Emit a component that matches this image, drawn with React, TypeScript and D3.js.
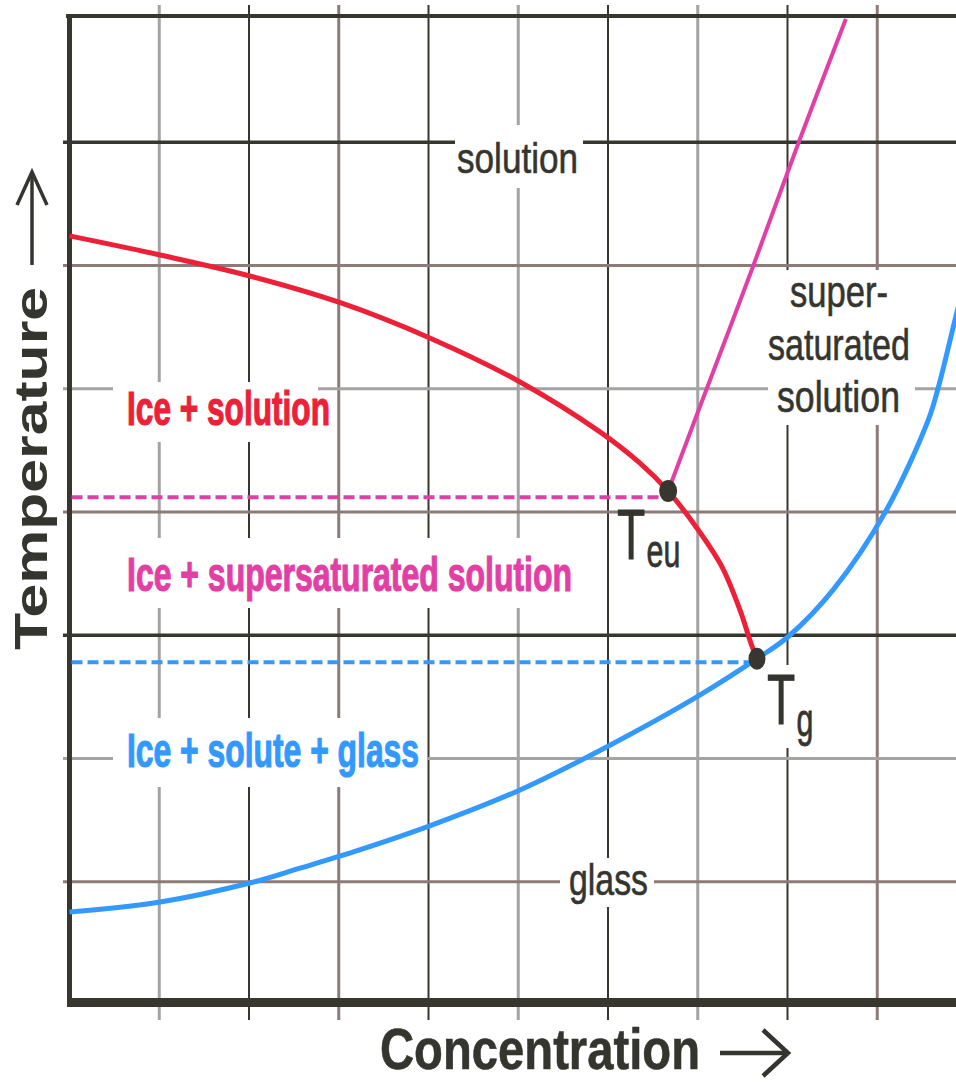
import React from 'react';
import * as d3 from 'd3';

const W = 956;
const H = 1082;

// ---- data (concentration 0..10, temperature 0..8, arbitrary units) ----
const xGridValues = [1, 2, 3, 4, 5, 6, 7, 8, 9];
const xGridTones = ['light', 'dark', 'brown', 'dark', 'light', 'dark', 'light', 'dark', 'brown'];
const yGridValues = [1, 2, 3, 4, 5, 6, 7];
const yGridTones = ['brown', 'light', 'dark', 'brown', 'light', 'brown', 'dark'];

const liquidusX = [0, 1.01, 2.01, 3.01, 4.02, 5.02, 5.91, 6.35, 6.67, 6.99, 7.27, 7.47, 7.6, 7.66];
const liquidusY = [6.24, 6.085, 5.915, 5.7, 5.41, 5.055, 4.65, 4.4, 4.17, 3.87, 3.555, 3.205, 2.92, 2.81];

const solubilityX = [6.67, 6.97, 7.62, 8.12, 8.65];
const solubilityY = [4.17, 4.75, 6.0, 6.99, 8.0];

const glassX = [0, 1.01, 2.01, 2.57, 3.24, 4.02, 5.02, 6.0, 6.99, 7.66, 8.01, 8.51, 9.09, 9.57, 9.68, 9.87, 9.95];
const glassY = [0.755, 0.836, 0.99, 1.11, 1.26, 1.455, 1.745, 2.1, 2.5, 2.81, 2.99, 3.37, 4.0, 4.75, 5.01, 5.57, 5.8];

const eutecticPoint = [6.67, 4.17];
const glassPoint = [7.66, 2.81];
const eutecticLevel = 4.12;
const glassLevel = 2.78;

const COLORS = {
  dark: '#37372f',
  light: '#a3a3a3',
  brown: '#8c7b79',
  red: '#ec2138',
  pink: '#e23fa6',
  blue: '#3399ff',
  text: '#35352f',
};

const x = d3.scaleLinear().domain([0, 10]).range([69.5, 967]);
const y = d3.scaleLinear().domain([0, 8]).range([1005, 19]);

const toPts = (xs: number[], ys: number[]) => xs.map((v, i) => [v, ys[i]] as [number, number]);

const lineGen = d3
  .line<[number, number]>()
  .x((d) => x(d[0]))
  .y((d) => y(d[1]))
  .curve(d3.curveCatmullRom.alpha(0.5));

const FONT = "'Liberation Sans', Arial, Helvetica, sans-serif";

type Lbl = {
  text: string;
  x0: number;
  x1: number;
  base: number;
  size: number;
  weight: string;
  fill: string;
  halo: number;
};

const labels: Lbl[] = [
  { text: 'solution', x0: 457, x1: 578, base: 173, size: 42, weight: 'normal', fill: COLORS.text, halo: 0.6 },
  { text: 'super-', x0: 790, x1: 888, base: 307, size: 44, weight: 'normal', fill: COLORS.text, halo: 0.6 },
  { text: 'saturated', x0: 768, x1: 910, base: 360, size: 44, weight: 'normal', fill: COLORS.text, halo: 0.6 },
  { text: 'solution', x0: 777, x1: 900, base: 412, size: 44, weight: 'normal', fill: COLORS.text, halo: 0.6 },
  { text: 'glass', x0: 569, x1: 648, base: 895, size: 44, weight: 'normal', fill: COLORS.text, halo: 0.6 },
  { text: 'Ice + solution', x0: 127, x1: 330, base: 425, size: 48, weight: 'bold', fill: COLORS.red, halo: 1.2 },
  { text: 'Ice + supersaturated solution', x0: 127, x1: 572, base: 591, size: 48, weight: 'bold', fill: COLORS.pink, halo: 1.2 },
  { text: 'Ice + solute + glass', x0: 127, x1: 419, base: 767, size: 48, weight: 'bold', fill: COLORS.blue, halo: 1.2 },
];

// point labels: main letter + subscript
const pointLabels = [
  { main: 'T', sub: 'eu', x0: 617, base: 559, subDy: 8 },
  { main: 'T', sub: 'g', x0: 767, base: 724, subDy: 12 },
];

// white masks behind labels (x0, y0, x1, y1)
const masks: [number, number, number, number][] = [
  [455, 125, 583, 188],
  [768, 270, 915, 425],
  [560, 858, 654, 907],
  [113, 382, 318, 442],
  [113, 538, 590, 608],
  [113, 718, 427, 787],
  [762, 665, 815, 748],
];

export default function App() {
  const toneW: Record<string, number> = { light: 3, dark: 2, brown: 3 };
  return (
    <svg
      width={W}
      height={H}
      viewBox={`0 0 ${W} ${H}`}
      style={{ position: 'absolute', left: 0, top: 0, background: '#fff' }}
    >
      <rect x={0} y={0} width={W} height={H} fill="#fff" />
      {/* vertical grid */}
      {xGridValues.map((v, i) => (
        <line
          key={'vx' + i}
          x1={x(v)}
          x2={x(v)}
          y1={5}
          y2={1020}
          stroke={COLORS[xGridTones[i] as 'dark']}
          strokeWidth={toneW[xGridTones[i]]}
        />
      ))}
      {/* horizontal grid */}
      {yGridValues.map((v, i) => (
        <line
          key={'hy' + i}
          x1={63}
          x2={W}
          y1={y(v)}
          y2={y(v)}
          stroke={COLORS[yGridTones[i] as 'dark']}
          strokeWidth={yGridTones[i] === 'dark' ? 3.5 : 3}
        />
      ))}
      {/* frame */}
      <line x1={66} x2={W} y1={16} y2={16} stroke={COLORS.dark} strokeWidth={4} />
      <line x1={69.5} x2={69.5} y1={14} y2={1007} stroke={COLORS.dark} strokeWidth={5} />
      <line x1={67} x2={W} y1={1002.5} y2={1002.5} stroke={COLORS.dark} strokeWidth={9} />

      {/* label masks */}
      {masks.map((m, i) => (
        <rect key={'m' + i} x={m[0]} y={m[1]} width={m[2] - m[0]} height={m[3] - m[1]} fill="#fff" />
      ))}

      {/* dashed level lines */}
      <line
        x1={x(0) + 2}
        x2={x(eutecticPoint[0])}
        y1={y(eutecticLevel)}
        y2={y(eutecticLevel)}
        stroke={COLORS.pink}
        strokeWidth={4}
        strokeDasharray="11 5"
      />
      <line
        x1={x(0) + 2}
        x2={x(glassPoint[0])}
        y1={y(glassLevel)}
        y2={y(glassLevel)}
        stroke={COLORS.blue}
        strokeWidth={4}
        strokeDasharray="11 5"
      />

      {/* curves */}
      <path d={lineGen(toPts(glassX, glassY)) || ''} fill="none" stroke={COLORS.blue} strokeWidth={5} />
      <path d={lineGen(toPts(solubilityX, solubilityY)) || ''} fill="none" stroke={COLORS.pink} strokeWidth={4} />
      <path d={lineGen(toPts(liquidusX, liquidusY)) || ''} fill="none" stroke={COLORS.red} strokeWidth={5} />

      {/* points */}
      <ellipse cx={x(eutecticPoint[0])} cy={y(eutecticPoint[1])} rx={9} ry={11} fill={COLORS.dark} />
      <ellipse cx={x(glassPoint[0])} cy={y(glassPoint[1])} rx={8.5} ry={11} fill={COLORS.dark} />

      {/* region labels */}
      {labels.map((l, i) => (
        <text
          key={'l' + i}
          x={l.x0}
          y={l.base}
          fontFamily={FONT}
          fontSize={l.size}
          fontWeight={l.weight}
          fill={l.fill}
          stroke={l.fill}
          strokeWidth={l.halo}
          textLength={l.x1 - l.x0}
          lengthAdjust="spacingAndGlyphs"
        >
          {l.text}
        </text>
      ))}

      {/* point labels */}
      {pointLabels.map((p, i) => (
        <text
          key={'p' + i}
          transform={`translate(${p.x0},${p.base}) scale(0.66,1)`}
          fontFamily={FONT}
          fontSize={70}
          fill={COLORS.text}
          stroke={COLORS.text}
          strokeWidth={0.8}
        >
          {p.main}
          <tspan fontSize={46} dy={p.subDy} dx={2}>
            {p.sub}
          </tspan>
        </text>
      ))}

      {/* axis titles */}
      <text
        transform="translate(47,650) rotate(-90)"
        x={0}
        y={0}
        fontFamily={FONT}
        fontSize={46}
        fontWeight="bold"
        fill={COLORS.text}
        textLength={363}
        lengthAdjust="spacingAndGlyphs"
      >
        Temperature
      </text>
      <line x1={32} x2={32} y1={265} y2={175} stroke={COLORS.text} strokeWidth={3.5} />
      <path d="M17,205 L32,172 L47,205" fill="none" stroke={COLORS.text} strokeWidth={3.5} />

      <text
        x={380}
        y={1069}
        fontFamily={FONT}
        fontSize={57}
        fontWeight="bold"
        fill={COLORS.text}
        stroke={COLORS.text}
        strokeWidth={0.6}
        textLength={320}
        lengthAdjust="spacingAndGlyphs"
      >
        Concentration
      </text>
      <line x1={720} x2={785} y1={1053} y2={1053} stroke={COLORS.text} strokeWidth={4.5} />
      <path d="M763,1030 L788,1053 L763,1076" fill="none" stroke={COLORS.text} strokeWidth={4.5} />
    </svg>
  );
}
